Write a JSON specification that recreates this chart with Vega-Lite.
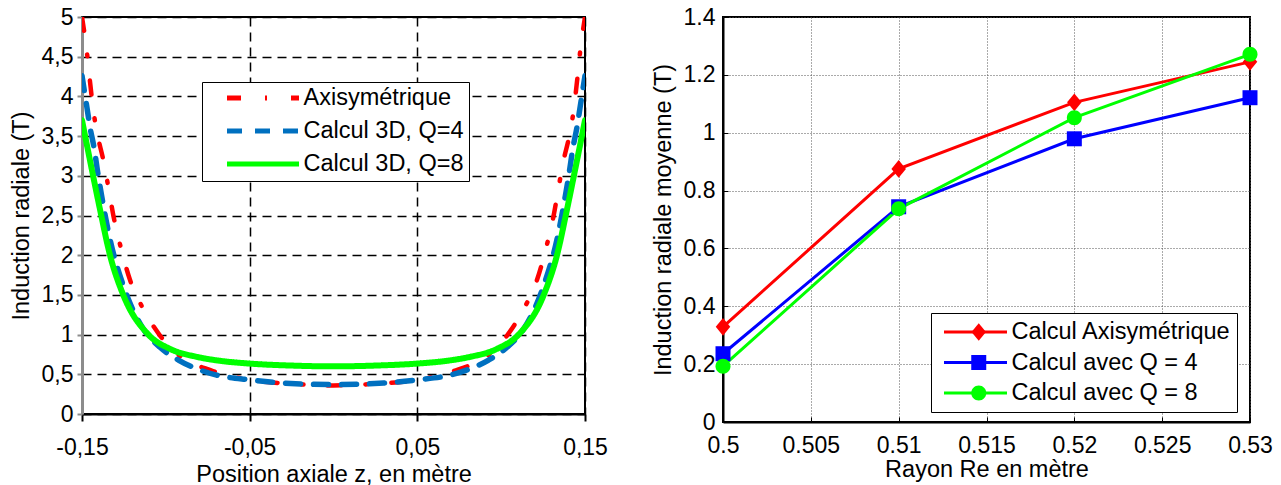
{
  "$schema": "https://vega.github.io/schema/vega-lite/v6.json",
  "padding": {"left": 8, "top": 5, "right": 0, "bottom": 0},
  "spacing": 41,
  "config": {
    "font": "Liberation Sans",
    "view": {"stroke": "black", "strokeWidth": 2},
    "axis": {"labelFont": "Liberation Sans", "titleFont": "Liberation Sans", "labelFontSize": 23, "titleFontSize": 23.5, "labelColor": "black", "titleColor": "black", "titleFontWeight": "normal", "labelFlush": false, "labelOverlap": false},
    "legend": {"labelFont": "Liberation Sans", "labelFontSize": 23.5, "labelColor": "black", "labelLimit": 400}
  },
  "resolve": {
    "scale": {"color": "independent", "shape": "independent", "strokeDash": "independent"},
    "legend": {"color": "independent", "shape": "independent", "strokeDash": "independent"}
  },
  "hconcat": [
    {
      "width": 503,
      "height": 397,
      "data": {"values": [
        {"serie": "Axisymétrique", "z": -0.15, "B": 5.0},
        {"serie": "Axisymétrique", "z": -0.1472, "B": 4.58},
        {"serie": "Axisymétrique", "z": -0.1452, "B": 4.18},
        {"serie": "Axisymétrique", "z": -0.1432, "B": 3.82},
        {"serie": "Axisymétrique", "z": -0.1406, "B": 3.5},
        {"serie": "Axisymétrique", "z": -0.1373, "B": 3.2},
        {"serie": "Axisymétrique", "z": -0.1343, "B": 2.86},
        {"serie": "Axisymétrique", "z": -0.1313, "B": 2.5},
        {"serie": "Axisymétrique", "z": -0.1269, "B": 2.1},
        {"serie": "Axisymétrique", "z": -0.1214, "B": 1.69},
        {"serie": "Axisymétrique", "z": -0.1134, "B": 1.32},
        {"serie": "Axisymétrique", "z": -0.1039, "B": 1.0},
        {"serie": "Axisymétrique", "z": -0.0915, "B": 0.73},
        {"serie": "Axisymétrique", "z": -0.073, "B": 0.55},
        {"serie": "Axisymétrique", "z": -0.05, "B": 0.43},
        {"serie": "Axisymétrique", "z": -0.025, "B": 0.38},
        {"serie": "Axisymétrique", "z": 0, "B": 0.36},
        {"serie": "Axisymétrique", "z": 0.025, "B": 0.38},
        {"serie": "Axisymétrique", "z": 0.05, "B": 0.43},
        {"serie": "Axisymétrique", "z": 0.073, "B": 0.55},
        {"serie": "Axisymétrique", "z": 0.0915, "B": 0.73},
        {"serie": "Axisymétrique", "z": 0.1039, "B": 1.0},
        {"serie": "Axisymétrique", "z": 0.1134, "B": 1.32},
        {"serie": "Axisymétrique", "z": 0.1214, "B": 1.69},
        {"serie": "Axisymétrique", "z": 0.1269, "B": 2.1},
        {"serie": "Axisymétrique", "z": 0.1313, "B": 2.5},
        {"serie": "Axisymétrique", "z": 0.1343, "B": 2.86},
        {"serie": "Axisymétrique", "z": 0.1373, "B": 3.2},
        {"serie": "Axisymétrique", "z": 0.1406, "B": 3.5},
        {"serie": "Axisymétrique", "z": 0.1432, "B": 3.82},
        {"serie": "Axisymétrique", "z": 0.1452, "B": 4.18},
        {"serie": "Axisymétrique", "z": 0.1472, "B": 4.58},
        {"serie": "Axisymétrique", "z": 0.15, "B": 5.0},
        {"serie": "Calcul 3D, Q=4", "z": -0.15, "B": 4.26},
        {"serie": "Calcul 3D, Q=4", "z": -0.1472, "B": 3.88},
        {"serie": "Calcul 3D, Q=4", "z": -0.1452, "B": 3.61},
        {"serie": "Calcul 3D, Q=4", "z": -0.1427, "B": 3.34},
        {"serie": "Calcul 3D, Q=4", "z": -0.1406, "B": 3.04},
        {"serie": "Calcul 3D, Q=4", "z": -0.1383, "B": 2.75},
        {"serie": "Calcul 3D, Q=4", "z": -0.1333, "B": 2.2},
        {"serie": "Calcul 3D, Q=4", "z": -0.1254, "B": 1.62},
        {"serie": "Calcul 3D, Q=4", "z": -0.1134, "B": 1.07},
        {"serie": "Calcul 3D, Q=4", "z": -0.1035, "B": 0.84},
        {"serie": "Calcul 3D, Q=4", "z": -0.0925, "B": 0.68},
        {"serie": "Calcul 3D, Q=4", "z": -0.0816, "B": 0.57},
        {"serie": "Calcul 3D, Q=4", "z": -0.0697, "B": 0.49},
        {"serie": "Calcul 3D, Q=4", "z": -0.05, "B": 0.43},
        {"serie": "Calcul 3D, Q=4", "z": -0.03, "B": 0.39},
        {"serie": "Calcul 3D, Q=4", "z": 0, "B": 0.37},
        {"serie": "Calcul 3D, Q=4", "z": 0.03, "B": 0.39},
        {"serie": "Calcul 3D, Q=4", "z": 0.05, "B": 0.43},
        {"serie": "Calcul 3D, Q=4", "z": 0.0697, "B": 0.49},
        {"serie": "Calcul 3D, Q=4", "z": 0.0816, "B": 0.57},
        {"serie": "Calcul 3D, Q=4", "z": 0.0925, "B": 0.68},
        {"serie": "Calcul 3D, Q=4", "z": 0.1035, "B": 0.84},
        {"serie": "Calcul 3D, Q=4", "z": 0.1134, "B": 1.07},
        {"serie": "Calcul 3D, Q=4", "z": 0.1254, "B": 1.62},
        {"serie": "Calcul 3D, Q=4", "z": 0.1333, "B": 2.2},
        {"serie": "Calcul 3D, Q=4", "z": 0.1383, "B": 2.75},
        {"serie": "Calcul 3D, Q=4", "z": 0.1406, "B": 3.04},
        {"serie": "Calcul 3D, Q=4", "z": 0.1427, "B": 3.34},
        {"serie": "Calcul 3D, Q=4", "z": 0.1452, "B": 3.61},
        {"serie": "Calcul 3D, Q=4", "z": 0.1472, "B": 3.88},
        {"serie": "Calcul 3D, Q=4", "z": 0.15, "B": 4.26},
        {"serie": "Calcul 3D, Q=8", "z": -0.15, "B": 3.7},
        {"serie": "Calcul 3D, Q=8", "z": -0.145, "B": 3.17},
        {"serie": "Calcul 3D, Q=8", "z": -0.1393, "B": 2.58},
        {"serie": "Calcul 3D, Q=8", "z": -0.1333, "B": 2.0},
        {"serie": "Calcul 3D, Q=8", "z": -0.1254, "B": 1.5},
        {"serie": "Calcul 3D, Q=8", "z": -0.1104, "B": 1.0},
        {"serie": "Calcul 3D, Q=8", "z": -0.0975, "B": 0.82},
        {"serie": "Calcul 3D, Q=8", "z": -0.0816, "B": 0.72},
        {"serie": "Calcul 3D, Q=8", "z": -0.0677, "B": 0.67},
        {"serie": "Calcul 3D, Q=8", "z": -0.05, "B": 0.635},
        {"serie": "Calcul 3D, Q=8", "z": -0.025, "B": 0.61},
        {"serie": "Calcul 3D, Q=8", "z": 0, "B": 0.6},
        {"serie": "Calcul 3D, Q=8", "z": 0.025, "B": 0.61},
        {"serie": "Calcul 3D, Q=8", "z": 0.05, "B": 0.635},
        {"serie": "Calcul 3D, Q=8", "z": 0.0677, "B": 0.67},
        {"serie": "Calcul 3D, Q=8", "z": 0.0816, "B": 0.72},
        {"serie": "Calcul 3D, Q=8", "z": 0.0975, "B": 0.82},
        {"serie": "Calcul 3D, Q=8", "z": 0.1104, "B": 1.0},
        {"serie": "Calcul 3D, Q=8", "z": 0.1254, "B": 1.5},
        {"serie": "Calcul 3D, Q=8", "z": 0.1333, "B": 2.0},
        {"serie": "Calcul 3D, Q=8", "z": 0.1393, "B": 2.58},
        {"serie": "Calcul 3D, Q=8", "z": 0.145, "B": 3.17},
        {"serie": "Calcul 3D, Q=8", "z": 0.15, "B": 3.7}
      ]},
      "encoding": {
        "x": {
          "field": "z", "type": "quantitative",
          "scale": {"domain": [-0.15, 0.15], "nice": false, "zero": false},
          "axis": {
            "title": "Position axiale z, en mètre",
            "values": [-0.15, -0.05, 0.05, 0.15],
            "labelExpr": "replace(replace(format(datum.value, '.2f'), '.', ','), '−', '-')",
            "grid": true, "gridColor": "black", "gridDash": [9, 6], "gridWidth": 1.5,
            "domainColor": "black", "domainWidth": 2,
            "tickColor": "black", "tickSize": 7, "tickWidth": 2,
            "labelPadding": 15, "titlePadding": 3
          }
        },
        "y": {
          "field": "B", "type": "quantitative",
          "scale": {"domain": [0, 5], "nice": false},
          "axis": {
            "title": "Induction radiale (T)",
            "values": [0, 0.5, 1, 1.5, 2, 2.5, 3, 3.5, 4, 4.5, 5],
            "labelExpr": "replace(format(datum.value, '~g'), '.', ',')",
            "grid": true, "gridColor": "black", "gridDash": [9, 6], "gridWidth": 1.5,
            "domainColor": "#8c8c8c", "domainWidth": 3,
            "tickColor": "#8c8c8c", "tickSize": 5, "tickWidth": 2,
            "labelPadding": 4, "titlePadding": 8
          }
        },
        "color": {
          "field": "serie", "type": "nominal",
          "scale": {"domain": ["Axisymétrique", "Calcul 3D, Q=4", "Calcul 3D, Q=8"], "range": ["#ff0000", "#0070c0", "#00ff00"]},
          "legend": {
            "title": null, "orient": "none", "legendX": 120, "legendY": 65,
            "symbolType": "stroke", "symbolSize": 5184, "symbolStrokeWidth": 5,
            "clipHeight": 22, "rowPadding": 9, "padding": 5,
            "symbolOffset": 17.5, "labelOffset": 2,
            "strokeColor": "black", "fillColor": "white"
          }
        },
        "strokeDash": {
          "field": "serie", "type": "nominal",
          "scale": {"domain": ["Axisymétrique", "Calcul 3D, Q=4", "Calcul 3D, Q=8"], "range": [[14, 24, 2, 24], [15, 13], [1, 0]]},
          "legend": {
            "title": null, "orient": "none", "legendX": 120, "legendY": 65,
            "symbolType": "stroke", "symbolSize": 5184, "symbolStrokeWidth": 5,
            "clipHeight": 22, "rowPadding": 9, "padding": 5,
            "symbolOffset": 17.5, "labelOffset": 2,
            "strokeColor": "black", "fillColor": "white"
          }
        }
      },
      "layer": [
        {"transform": [{"filter": "datum.serie === 'Axisymétrique'"}], "mark": {"type": "line", "interpolate": "monotone", "strokeCap": "round", "strokeWidth": 4.5, "clip": true}},
        {"transform": [{"filter": "datum.serie === 'Calcul 3D, Q=4'"}], "mark": {"type": "line", "interpolate": "monotone", "strokeCap": "round", "strokeWidth": 5.5, "clip": true}},
        {"transform": [{"filter": "datum.serie === 'Calcul 3D, Q=8'"}], "mark": {"type": "line", "interpolate": "monotone", "strokeCap": "round", "strokeWidth": 6, "clip": true}}
      ]
    },
    {
      "width": 527,
      "height": 405,
      "data": {"values": [
        {"serie": "Calcul Axisymétrique", "R": 0.5, "B": 0.329},
        {"serie": "Calcul Axisymétrique", "R": 0.51, "B": 0.875},
        {"serie": "Calcul Axisymétrique", "R": 0.52, "B": 1.105},
        {"serie": "Calcul Axisymétrique", "R": 0.53, "B": 1.245},
        {"serie": "Calcul avec Q = 4", "R": 0.5, "B": 0.236},
        {"serie": "Calcul avec Q = 4", "R": 0.51, "B": 0.744},
        {"serie": "Calcul avec Q = 4", "R": 0.52, "B": 0.979},
        {"serie": "Calcul avec Q = 4", "R": 0.53, "B": 1.121},
        {"serie": "Calcul avec Q = 8", "R": 0.5, "B": 0.193},
        {"serie": "Calcul avec Q = 8", "R": 0.51, "B": 0.737},
        {"serie": "Calcul avec Q = 8", "R": 0.52, "B": 1.052},
        {"serie": "Calcul avec Q = 8", "R": 0.53, "B": 1.271}
      ]},
      "encoding": {
        "x": {
          "field": "R", "type": "quantitative",
          "scale": {"domain": [0.5, 0.53], "nice": false, "zero": false},
          "axis": {
            "title": "Rayon Re en mètre",
            "values": [0.5, 0.505, 0.51, 0.515, 0.52, 0.525, 0.53],
            "format": ".3~f",
            "grid": true, "gridColor": "#555555", "gridDash": [1, 2], "gridWidth": 1,
            "domainColor": "black", "domainWidth": 2,
            "tickColor": "black", "tickSize": -5, "tickWidth": 1,
            "labelPadding": 17, "titlePadding": 0
          }
        },
        "y": {
          "field": "B", "type": "quantitative",
          "scale": {"domain": [0, 1.4], "nice": false},
          "axis": {
            "title": "Induction radiale moyenne (T)",
            "values": [0, 0.2, 0.4, 0.6, 0.8, 1, 1.2, 1.4],
            "format": "~g",
            "grid": true, "gridColor": "#555555", "gridDash": [1, 2], "gridWidth": 1,
            "domainColor": "black", "domainWidth": 2,
            "tickColor": "black", "tickSize": -5, "tickWidth": 1,
            "labelPadding": 13, "titlePadding": 8
          }
        }
      },
      "layer": [
        {
          "mark": {"type": "line", "strokeWidth": 3},
          "encoding": {
            "color": {
              "field": "serie", "type": "nominal",
              "scale": {"domain": ["Calcul Axisymétrique", "Calcul avec Q = 4", "Calcul avec Q = 8"], "range": ["#ff0000", "#0000ff", "#00ff00"]},
              "legend": {
                "title": null, "orient": "none", "legendX": 208, "legendY": 296,
                "symbolType": "stroke", "symbolSize": 3969, "symbolStrokeWidth": 3,
                "clipHeight": 26, "rowPadding": 4.5, "padding": 6,
                "symbolOffset": 5.5, "labelOffset": 3,
                "strokeColor": "black", "fillColor": "white"
              }
            }
          }
        },
        {
          "mark": {"type": "point", "filled": true, "opacity": 1, "strokeWidth": 0, "size": 260},
          "encoding": {
            "color": {
              "field": "serie", "type": "nominal",
              "scale": {"domain": ["Calcul Axisymétrique", "Calcul avec Q = 4", "Calcul avec Q = 8"], "range": ["#ff0000", "#0000ff", "#00ff00"]},
              "legend": {
                "title": null, "orient": "none", "legendX": 208, "legendY": 296,
                "symbolSize": 260, "symbolStrokeWidth": 0, "symbolOpacity": 1,
                "clipHeight": 26, "rowPadding": 4.5, "padding": 6,
                "symbolOffset": 30, "labelOffset": 0, "labelExpr": "''",
                "strokeColor": "transparent", "fillColor": "transparent"
              }
            },
            "shape": {
              "field": "serie", "type": "nominal",
              "scale": {"domain": ["Calcul Axisymétrique", "Calcul avec Q = 4", "Calcul avec Q = 8"], "range": ["M0,-1.1L0.9,0L0,1.1L-0.9,0Z", "M-0.93,-0.93L0.93,-0.93L0.93,0.93L-0.93,0.93Z", "M0.93,0A0.93,0.93,0,1,1,-0.93,0A0.93,0.93,0,1,1,0.93,0Z"]},
              "legend": {
                "title": null, "orient": "none", "legendX": 208, "legendY": 296,
                "symbolSize": 260, "symbolStrokeWidth": 0, "symbolOpacity": 1,
                "clipHeight": 26, "rowPadding": 4.5, "padding": 6,
                "symbolOffset": 30, "labelOffset": 0, "labelExpr": "''",
                "strokeColor": "transparent", "fillColor": "transparent"
              }
            }
          }
        }
      ],
      "resolve": {"scale": {"color": "independent", "shape": "independent"}, "legend": {"color": "independent", "shape": "independent"}}
    }
  ]
}
